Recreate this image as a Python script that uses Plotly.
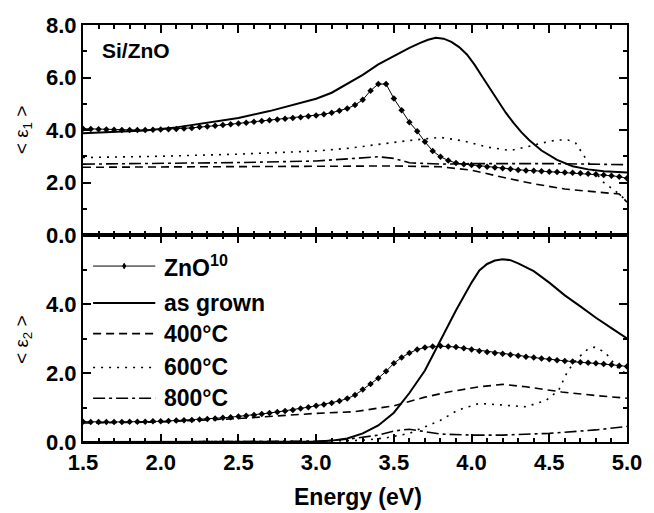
import plotly.graph_objects as go

# ---------------- data ----------------
# ZnO^10 reference (markers every 0.05 eV)
zno_x = [round(1.5 + 0.05 * i, 2) for i in range(71)]
zno_e1 = [4.05, 4.04, 4.03, 4.02, 4.01, 4.00, 4.00, 4.00, 4.00, 4.01,
          4.02, 4.03, 4.04, 4.06, 4.08, 4.11, 4.13, 4.16, 4.19, 4.22,
          4.25, 4.28, 4.31, 4.34, 4.37, 4.40, 4.43, 4.46, 4.49, 4.52,
          4.55, 4.60, 4.66, 4.73, 4.82, 4.95, 5.15, 5.50, 5.75, 5.75,
          5.20, 4.75, 4.30, 3.95, 3.55, 3.20, 2.98, 2.84, 2.74, 2.70,
          2.67, 2.63, 2.60, 2.57, 2.54, 2.51, 2.48, 2.46, 2.45, 2.43,
          2.41, 2.40, 2.38, 2.37, 2.35, 2.33, 2.31, 2.29, 2.26, 2.22, 2.16]
zno_e2 = [0.59, 0.58, 0.58, 0.58, 0.58, 0.58, 0.59, 0.59, 0.59, 0.60,
          0.60, 0.61, 0.62, 0.63, 0.64, 0.65, 0.67, 0.68, 0.70, 0.72,
          0.74, 0.76, 0.78, 0.81, 0.84, 0.87, 0.90, 0.93, 0.97, 1.01,
          1.05, 1.09, 1.13, 1.19, 1.26, 1.36, 1.52, 1.68, 1.85, 2.05,
          2.28, 2.45, 2.58, 2.68, 2.74, 2.77, 2.78, 2.77, 2.75, 2.72,
          2.68, 2.64, 2.61, 2.58, 2.56, 2.53, 2.50, 2.47, 2.45, 2.42,
          2.40, 2.37, 2.35, 2.33, 2.31, 2.30, 2.28, 2.26, 2.24, 2.21, 2.19]

# as grown
ag1_x = [1.5, 1.7, 1.9, 2.1, 2.3, 2.5, 2.7, 2.9, 3.0, 3.1, 3.2, 3.3, 3.4, 3.5,
         3.6, 3.67, 3.72, 3.77, 3.82, 3.87, 3.92, 3.97, 4.02, 4.07, 4.12, 4.17,
         4.22, 4.27, 4.32, 4.37, 4.45, 4.55, 4.65, 4.75, 4.85, 5.0]
ag1_y = [3.88, 3.92, 3.98, 4.10, 4.28, 4.46, 4.72, 5.02, 5.19, 5.42, 5.75, 6.10,
         6.50, 6.83, 7.13, 7.32, 7.44, 7.51, 7.48, 7.36, 7.16, 6.88, 6.48, 6.02,
         5.56, 5.10, 4.66, 4.27, 3.92, 3.62, 3.22, 2.86, 2.62, 2.50, 2.43, 2.38]
ag2_x = [1.5, 2.0, 2.5, 3.0, 3.1, 3.2, 3.3, 3.4, 3.5, 3.6, 3.7, 3.8, 3.9, 4.0,
         4.05, 4.1, 4.15, 4.2, 4.25, 4.3, 4.4, 4.5, 4.6, 4.7, 4.8, 4.9, 5.0]
ag2_y = [0.0, 0.0, 0.0, 0.01, 0.04, 0.10, 0.25, 0.48, 0.85, 1.42, 2.07, 2.94,
         3.82, 4.62, 4.97, 5.16, 5.26, 5.30, 5.27, 5.18, 4.95, 4.62, 4.25, 3.93,
         3.60, 3.30, 3.00]

# 400 C
t400_1x = [1.5, 2.0, 2.5, 3.0, 3.5, 3.8, 4.0, 4.2, 4.4, 4.6, 4.8, 4.95, 5.0]
t400_1y = [2.58, 2.59, 2.61, 2.62, 2.63, 2.60, 2.47, 2.20, 1.95, 1.75, 1.63, 1.56, 1.25]
t400_2x = [1.5, 2.0, 2.5, 3.0, 3.25, 3.5, 3.7, 3.85, 4.05, 4.2, 4.35, 4.58, 4.79, 5.0]
t400_2y = [0.55, 0.58, 0.68, 0.83, 0.88, 1.05, 1.30, 1.45, 1.60, 1.67, 1.60, 1.45, 1.35, 1.27]

# 600 C
t600_1x = [1.5, 2.0, 2.5, 3.0, 3.2, 3.4, 3.6, 3.8, 3.95, 4.1, 4.25, 4.35, 4.45,
           4.55, 4.62, 4.67, 4.71, 4.74, 4.78, 4.85, 4.92, 5.0]
t600_1y = [2.95, 3.00, 3.08, 3.20, 3.30, 3.45, 3.60, 3.72, 3.58, 3.35, 3.22, 3.35,
           3.50, 3.62, 3.62, 3.50, 3.15, 2.88, 2.50, 2.00, 1.70, 1.30]
t600_2x = [1.5, 2.5, 3.0, 3.3, 3.45, 3.6, 3.7, 3.8, 3.91, 4.05, 4.2, 4.35, 4.48,
           4.56, 4.62, 4.69, 4.75, 4.79, 4.86, 4.93, 5.0]
t600_2y = [0.0, 0.01, 0.02, 0.05, 0.12, 0.25, 0.44, 0.63, 0.92, 1.12, 1.07, 1.02,
           1.21, 1.50, 2.07, 2.46, 2.70, 2.75, 2.60, 2.20, 1.95]

# 800 C
t800_1x = [1.5, 2.0, 2.5, 3.0, 3.2, 3.4, 3.5, 3.6, 3.8, 4.0, 4.5, 5.0]
t800_1y = [2.70, 2.72, 2.76, 2.82, 2.90, 2.98, 2.92, 2.75, 2.70, 2.72, 2.72, 2.68]
t800_2x = [1.5, 2.5, 3.0, 3.2, 3.4, 3.5, 3.6, 3.7, 3.8, 4.0, 4.2, 4.5, 4.8, 5.0]
t800_2y = [0.0, 0.0, 0.02, 0.08, 0.20, 0.32, 0.37, 0.30, 0.23, 0.20, 0.20, 0.25, 0.35, 0.45]

legend_names = ["ZnO<sup>10</sup>", "as grown", "400°C", "600°C", "800°C"]
legend_y = [5.1, 4.03, 3.14, 2.16, 1.27]  # legend rows (bottom-panel units)

x_ticks = [1.5, 2.0, 2.5, 3.0, 3.5, 4.0, 4.5, 5.0]
y1_ticks = [0.0, 2.0, 4.0, 6.0, 8.0]
y2_ticks = [0.0, 2.0, 4.0]

# ---------------- styles ----------------
FONT = "Liberation Sans"
styles = {
    "zno": dict(color="black", width=1),
    "ag": dict(color="black", width=2),
    "400": dict(color="black", width=1.6, dash="8px,5px"),
    "600": dict(color="black", width=1.6, dash="2px,6px"),
    "800": dict(color="black", width=1.6, dash="12px,4px,3px,4px"),
}

fig = go.Figure()

def add(x, y, key, ax, markers=False):
    fig.add_trace(go.Scatter(
        x=x, y=y, xaxis="x" if ax == 1 else "x2", yaxis="y" if ax == 1 else "y2",
        mode="lines+markers" if markers else "lines",
        line=styles[key],
        marker=dict(symbol="diamond", size=5, color="black") if markers else None,
        showlegend=False, hoverinfo="skip"))

add(ag1_x, ag1_y, "ag", 1)
add(t400_1x, t400_1y, "400", 1)
add(t600_1x, t600_1y, "600", 1)
add(t800_1x, t800_1y, "800", 1)
add(zno_x, zno_e1, "zno", 1, markers=True)

add(ag2_x, ag2_y, "ag", 2)
add(t400_2x, t400_2y, "400", 2)
add(t600_2x, t600_2y, "600", 2)
add(t800_2x, t800_2y, "800", 2)
add(zno_x, zno_e2, "zno", 2, markers=True)

split = 0.4964
tickfont = dict(family=FONT, size=22, color="black", weight="bold")
common = dict(showline=True, linecolor="black", linewidth=2, mirror="allticks",
              ticks="inside", ticklen=8, tickwidth=1.5, tickcolor="black",
              showgrid=False, zeroline=False, tickfont=tickfont)

fig.update_layout(
    width=654, height=513,
    margin=dict(l=83, r=17, t=25, b=71),
    paper_bgcolor="white", plot_bgcolor="white",
    font=dict(family=FONT, color="black"),
    xaxis=dict(domain=[0, 1], anchor="y", range=[1.5, 5.0], matches="x2",
               tickvals=x_ticks, showticklabels=False,
               minor=dict(dtick=0.1, ticks="inside", ticklen=4, tickcolor="black"),
               **common),
    xaxis2=dict(domain=[0, 1], anchor="y2", range=[1.5, 5.0],
                tickvals=x_ticks, tickformat=".1f",
                minor=dict(dtick=0.1, ticks="inside", ticklen=4, tickcolor="black"),
                **common),
    yaxis=dict(domain=[split, 1], anchor="x", range=[0, 8], tickvals=y1_ticks,
               tickformat=".1f",
               minor=dict(dtick=1, ticks="inside", ticklen=4, tickcolor="black"),
               **common),
    yaxis2=dict(domain=[0, split], anchor="x2", range=[0, 6], tickvals=y2_ticks,
                tickformat=".1f",
                minor=dict(dtick=1, ticks="inside", ticklen=4, tickcolor="black"),
                **common),
)

# ---------------- manual legend ----------------
keys = ["zno", "ag", "400", "600", "800"]
for name, yy, k in zip(legend_names, legend_y, keys):
    st = styles[k]
    fig.add_shape(type="line", xref="x2", yref="y2", x0=1.565, x1=1.965, y0=yy, y1=yy,
                  line=dict(color="black", width=st["width"], dash=st.get("dash", "solid")))
    fig.add_annotation(x=2.01, y=yy, xref="x2", yref="y2", text="<b>%s</b>" % name,
                       showarrow=False, xanchor="left", yanchor="middle",
                       font=dict(family=FONT, size=23, color="black"))
# marker on ZnO legend sample
fig.add_shape(type="path", xref="x2", yref="y2",
              path="M 1.765 %f L 1.775 %f L 1.765 %f L 1.755 %f Z" % (
                  legend_y[0] + 0.08, legend_y[0], legend_y[0] - 0.08, legend_y[0]),
              fillcolor="black", line=dict(color="black", width=1))

# ---------------- texts ----------------
fig.add_annotation(x=0.031, y=0.94, xref="paper", yref="paper", text="<b>Si/ZnO</b>",
                   showarrow=False, xanchor="left", yanchor="middle",
                   font=dict(family=FONT, size=21, color="black"))
fig.add_annotation(x=0.505, y=-0.132, xref="paper", yref="paper", text="<b>Energy (eV)</b>",
                   showarrow=False, xanchor="center", yanchor="middle",
                   font=dict(family=FONT, size=23, color="black"))
fig.add_annotation(x=-0.110, y=0.748, xref="paper", yref="paper",
                   text="&lt; ε<sub>1</sub> &gt;", textangle=-90,
                   showarrow=False, xanchor="center", yanchor="middle",
                   font=dict(family=FONT, size=19, color="black"))
fig.add_annotation(x=-0.110, y=0.245, xref="paper", yref="paper",
                   text="&lt; ε<sub>2</sub> &gt;", textangle=-90,
                   showarrow=False, xanchor="center", yanchor="middle",
                   font=dict(family=FONT, size=19, color="black"))

fig.write_html("out.html")
